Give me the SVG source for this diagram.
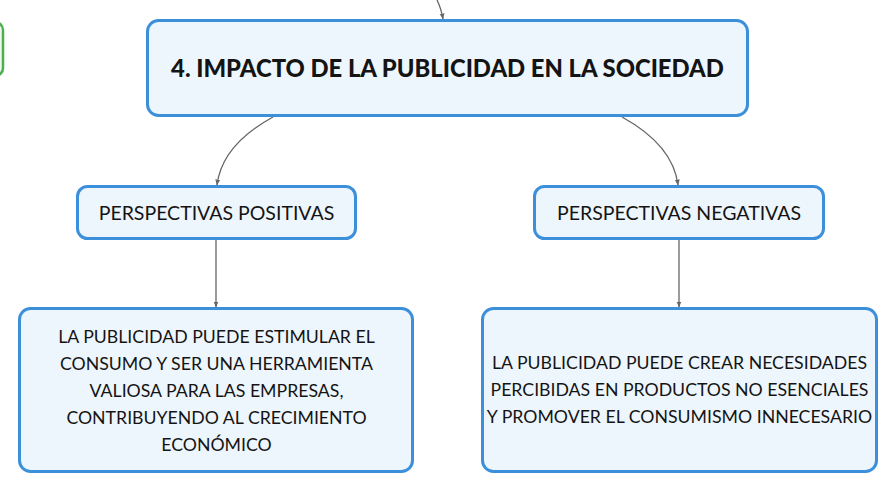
<svg xmlns="http://www.w3.org/2000/svg" width="896" height="492" viewBox="0 0 896 492">
<style>
.box{fill:#eef6fd;stroke:#3b8fdb;stroke-width:3}
.t{font-family:Lato,"Noto Sans",sans-serif;fill:#141414;text-anchor:middle}
.title{font-size:23.8px;font-weight:900}
.sub{font-size:19.5px}
.body{font-size:17.7px}
.conn{fill:none;stroke:#666;stroke-width:1.3}
</style>
<defs>
<marker id="ah" viewBox="0 0 10 10" refX="9" refY="5" markerWidth="6" markerHeight="6" orient="auto" markerUnits="userSpaceOnUse">
<path d="M0,1 L10,5 L0,9 Z" fill="#666"/>
</marker>
</defs>
<rect width="896" height="492" fill="#fff"/>
<g id="connectors">
<path class="conn" d="M437,0 Q441,8 443,19" marker-end="url(#ah)"/>
<path class="conn" d="M273,117 Q222,145 217,185" marker-end="url(#ah)"/>
<path class="conn" d="M622,117 Q673,145 678,185" marker-end="url(#ah)"/>
<path class="conn" d="M216,240 L216,307" marker-end="url(#ah)"/>
<path class="conn" d="M679,240 L679,307" marker-end="url(#ah)"/>
</g>
<g id="node-green">
<rect x="-20" y="22" width="23" height="54" rx="8" fill="#eef9ee" stroke="#4caf50" stroke-width="2.5"/>
</g>
<g id="node-main">
<rect class="box" x="147.5" y="20.5" width="600" height="95" rx="11"/>
<text class="t title" x="447.5" y="77">4. IMPACTO DE LA PUBLICIDAD EN LA SOCIEDAD</text>
</g>
<g id="node-pos">
<rect class="box" x="77.5" y="186.5" width="278" height="52" rx="10"/>
<text class="t sub" x="216.5" y="220">PERSPECTIVAS POSITIVAS</text>
</g>
<g id="node-neg">
<rect class="box" x="534.5" y="186.5" width="289" height="52" rx="10"/>
<text class="t sub" x="679" y="220">PERSPECTIVAS NEGATIVAS</text>
</g>
<g id="node-pos-text">
<rect class="box" x="19.5" y="308.5" width="393" height="163" rx="11"/>
<text class="t body" x="216.5" y="343">LA PUBLICIDAD PUEDE ESTIMULAR EL</text>
<text class="t body" x="216.5" y="370">CONSUMO Y SER UNA HERRAMIENTA</text>
<text class="t body" x="216.5" y="397">VALIOSA PARA LAS EMPRESAS,</text>
<text class="t body" x="216.5" y="424">CONTRIBUYENDO AL CRECIMIENTO</text>
<text class="t body" x="216.5" y="451">ECONÓMICO</text>
</g>
<g id="node-neg-text">
<rect class="box" x="482.5" y="308.5" width="394" height="163" rx="11"/>
<text class="t body" x="679.5" y="369">LA PUBLICIDAD PUEDE CREAR NECESIDADES</text>
<text class="t body" x="679.5" y="396">PERCIBIDAS EN PRODUCTOS NO ESENCIALES</text>
<text class="t body" x="679.5" y="423">Y PROMOVER EL CONSUMISMO INNECESARIO</text>
</g>
</svg>
